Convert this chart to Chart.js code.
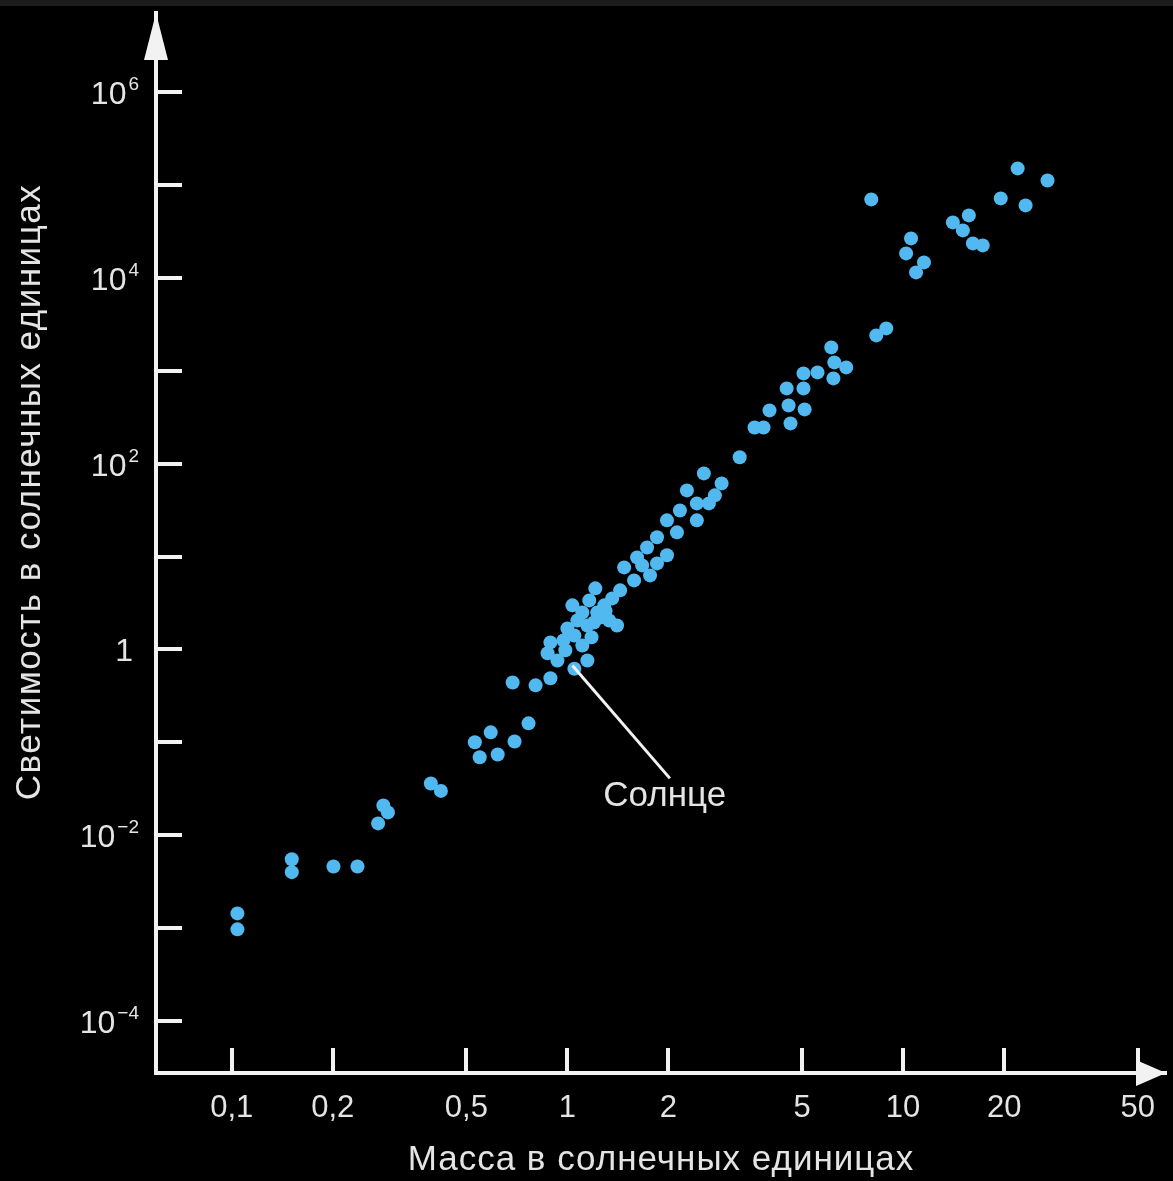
<!DOCTYPE html>
<html lang="ru">
<head>
  <meta charset="UTF-8" />
  <title>Масса – светимость</title>
  <script src="https://cdn.jsdelivr.net/npm/chart.js@4/dist/chart.umd.min.js"></script>
  <style>
    html, body { margin: 0; padding: 0; background: #000; }
    .wrap { position: relative; width: 1173px; height: 1181px; }
    .wrap::before {
      content: ''; position: absolute; left: 0; top: 0; right: 0; height: 6px; background: #1c1c1c;
    }
  </style>
</head>
<body>
  <div class="wrap"><canvas id="chart"></canvas></div>

  <script>
    // masses (solar units) and luminosities (solar units)
    const MASS = [
      0.104, 0.104, 0.151, 0.151, 0.201, 0.237, 0.273, 0.283, 0.292, 0.392,
      0.420, 0.530, 0.548, 0.591, 0.620, 0.696, 0.766, 0.687, 0.804, 0.890,
      0.873, 0.890, 0.934, 0.986, 1.108, 1.147, 1.049, 0.973, 1.035, 1.071,
      1.049, 1.147, 1.211, 1.227, 1.288, 1.332, 1.406, 1.162, 1.108, 1.000,
      1.436, 1.476, 1.580, 1.613, 1.727, 1.763, 1.849, 1.98, 1.98, 2.12,
      2.164, 2.27, 2.43, 2.43, 2.55, 2.64, 2.75, 2.88, 1.670, 1.849,
      1.36, 3.26, 3.61, 3.84, 4.00, 4.50, 4.56, 4.62, 5.05, 5.09,
      5.05, 5.56, 6.11, 6.20, 6.77, 6.24, 8.32, 8.91, 8.04, 10.56,
      10.21, 11.54, 10.93, 14.07, 15.07, 15.70, 16.14, 17.27, 19.54, 21.94,
      23.17, 26.93, 1.18, 1.25, 1.30, 1.20
    ];
    const LUM = [
      0.00144, 0.00097, 0.0055, 0.0040, 0.0046, 0.0046, 0.0134, 0.0209, 0.0176, 0.036,
      0.030, 0.100, 0.069, 0.128, 0.074, 0.102, 0.160, 0.44, 0.41, 0.49,
      0.91, 1.19, 0.76, 0.98, 1.10, 0.76, 0.62, 1.25, 2.98, 2.05,
      1.41, 1.81, 4.54, 2.50, 2.98, 2.05, 1.81, 3.37, 2.50, 1.68,
      4.32, 7.63, 5.53, 9.78, 12.5, 6.26, 16.1, 10.3, 24.5, 18.2,
      31.3, 51.5, 24.5, 37.3, 78.4, 37.3, 45.5, 61.2, 8.02, 8.43,
      3.54, 117, 245, 245, 374, 645, 423, 271, 645, 383,
      935, 959, 1782, 826, 1085, 1228, 2400, 2853, 69800, 26550,
      18320, 14650, 11430, 39500, 32360, 46950, 23450, 22330, 71600, 150600,
      60170, 111700, 1.35, 2.2, 2.6, 1.95
    ];

    const X_TICKS = [0.1, 0.2, 0.5, 1, 2, 5, 10, 20, 50];
    const X_LABELS = ['0,1', '0,2', '0,5', '1', '2', '5', '10', '20', '50'];
    const Y_TICKS = [1e-4, 1e-3, 1e-2, 1e-1, 1, 1e1, 1e2, 1e3, 1e4, 1e5, 1e6];
    // y labels are drawn as base + raised exponent
    const Y_BASE = ['10', '', '10', '', '1', '', '10', '', '10', '', '10'];
    const Y_EXP = ['−4', '', '−2', '', '', '', '2', '', '4', '', '6'];

    // Sun pointer: line from near the Sun down to the caption
    const SUN_LINE_X = [1.035, 2.02];
    const SUN_LINE_Y = [0.672, 0.0409];
    const SUN_TEXT_AT = [1.279, 0.0262];

    const AXIS = '#f2f2f2';
    const TEXT = '#e4e4e4';
    const DOT = '#52b8f0';
    const FONT = "'Liberation Sans', Arial, sans-serif";

    const decor = {
      id: 'decor',
      afterDraw(chart) {
        const { ctx, chartArea: a, scales: { x, y } } = chart;
        ctx.save();
        ctx.strokeStyle = AXIS;
        ctx.fillStyle = AXIS;
        ctx.lineWidth = 4;

        // inward tick marks
        ctx.beginPath();
        Y_TICKS.forEach((v) => {
          const py = Math.round(y.getPixelForValue(v));
          ctx.moveTo(a.left, py);
          ctx.lineTo(a.left + 26, py);
        });
        X_TICKS.forEach((v) => {
          const px = Math.round(x.getPixelForValue(v));
          ctx.moveTo(px, a.bottom);
          ctx.lineTo(px, a.bottom - 25);
        });
        ctx.stroke();

        // corner + arrow heads
        ctx.fillRect(a.left - 2, a.bottom - 2, 4, 4);
        ctx.beginPath();
        ctx.moveTo(a.left, a.top);
        ctx.lineTo(a.left - 12, a.top + 47);
        ctx.lineTo(a.left + 12, a.top + 47);
        ctx.closePath();
        ctx.fill();
        ctx.beginPath();
        ctx.moveTo(a.right, a.bottom);
        ctx.lineTo(a.right - 30, a.bottom - 13);
        ctx.lineTo(a.right - 30, a.bottom + 13);
        ctx.closePath();
        ctx.fill();

        // y tick labels with superscript exponents
        ctx.fillStyle = TEXT;
        ctx.textBaseline = 'alphabetic';
        ctx.textAlign = 'right';
        Y_TICKS.forEach((v, i) => {
          if (!Y_BASE[i]) return;
          const py = y.getPixelForValue(v);
          let right = a.left - 17;
          if (Y_EXP[i]) {
            ctx.font = '19px ' + FONT;
            ctx.fillText(Y_EXP[i], right, py - 2);
            right -= ctx.measureText(Y_EXP[i]).width + 2;
          } else {
            right -= 6;
          }
          ctx.font = '32px ' + FONT;
          ctx.fillText(Y_BASE[i], right, py + 12);
        });

        // Sun pointer
        ctx.lineWidth = 3;
        ctx.beginPath();
        ctx.moveTo(x.getPixelForValue(SUN_LINE_X[0]), y.getPixelForValue(SUN_LINE_Y[0]));
        ctx.lineTo(x.getPixelForValue(SUN_LINE_X[1]), y.getPixelForValue(SUN_LINE_Y[1]));
        ctx.stroke();
        ctx.font = '35px ' + FONT;
        ctx.textAlign = 'left';
        ctx.textBaseline = 'middle';
        ctx.fillText('Солнце', x.getPixelForValue(SUN_TEXT_AT[0]), y.getPixelForValue(SUN_TEXT_AT[1]));

        // axis titles
        ctx.font = '35px ' + FONT;
        ctx.textAlign = 'center';
        ctx.letterSpacing = '1px';
        ctx.fillText('Масса в солнечных единицах', (a.left + a.right) / 2, 1160);
        ctx.letterSpacing = '1.5px';
        ctx.translate(30, 492);
        ctx.rotate(-Math.PI / 2);
        ctx.fillText('Светимость в солнечных единицах', 0, 0);
        ctx.restore();
      },
    };

    new Chart(document.getElementById('chart'), {
      type: 'scatter',
      data: {
        datasets: [{
          data: MASS.map((m, i) => ({ x: m, y: LUM[i] })),
          backgroundColor: DOT,
          borderWidth: 0,
          pointRadius: 7,
          pointHoverRadius: 7,
        }],
      },
      options: {
        responsive: true,
        maintainAspectRatio: false,
        animation: false,
        events: [],
        layout: { padding: { top: 13, right: 0, left: 0, bottom: 0 } },
        plugins: { legend: { display: false }, tooltip: { enabled: false } },
        scales: {
          x: {
            type: 'logarithmic',
            min: 0.0595,
            max: 60.7,
            afterBuildTicks: (s) => { s.ticks = X_TICKS.map((v) => ({ value: v })); },
            afterFit: (s) => { s.height = 108; s.paddingLeft = 0; s.paddingRight = 0; },
            grid: { display: false, drawTicks: false },
            border: { display: true, color: AXIS, width: 4 },
            ticks: {
              autoSkip: false, maxRotation: 0, padding: 17, color: TEXT,
              font: { family: FONT, size: 31 },
              callback: (v, i) => X_LABELS[i],
            },
          },
          y: {
            type: 'logarithmic',
            min: 2.756e-5,
            max: 7.086e6,
            afterBuildTicks: (s) => { s.ticks = Y_TICKS.map((v) => ({ value: v })); },
            afterFit: (s) => { s.width = 156; s.paddingTop = 0; s.paddingBottom = 0; },
            grid: { display: false, drawTicks: false },
            border: { display: true, color: AXIS, width: 4 },
            ticks: { display: false },
          },
        },
      },
      plugins: [decor],
    });
  </script>
</body>
</html>
